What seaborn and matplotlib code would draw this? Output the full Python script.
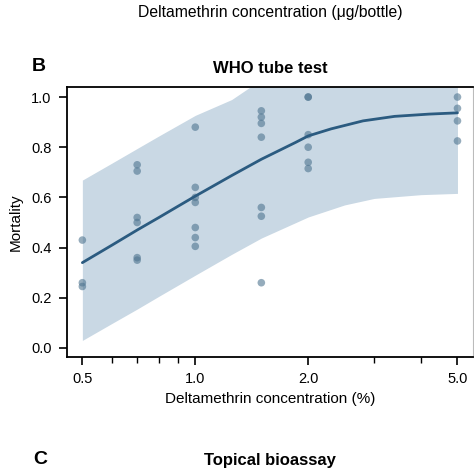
import numpy as np
import pandas as pd
import matplotlib
matplotlib.use("Agg")
import matplotlib.pyplot as plt
import seaborn as sns
from matplotlib.ticker import FixedLocator, NullFormatter

# observed mortality per tube, grouped by concentration (%)
conc_05 = [0.43, 0.26, 0.245]
conc_07 = [0.73, 0.705, 0.52, 0.50, 0.36, 0.35]
conc_10 = [0.88, 0.64, 0.60, 0.58, 0.48, 0.44, 0.405]
conc_15 = [0.945, 0.92, 0.895, 0.84, 0.56, 0.525, 0.26]
conc_20 = [1.0, 1.0, 0.85, 0.80, 0.74, 0.715]
conc_50 = [1.0, 0.955, 0.905, 0.825]
groups = {0.5: conc_05, 0.7: conc_07, 1.0: conc_10, 1.5: conc_15, 2.0: conc_20, 5.0: conc_50}

# fitted curve and confidence band
fit_x = [0.5, 0.6, 0.7, 0.8, 0.9, 1.0, 1.1, 1.25, 1.5, 1.7, 1.85, 2.0, 2.3, 2.8, 3.4, 4.2, 5.0]
fit_y = [0.34, 0.41, 0.47, 0.52, 0.565, 0.605, 0.64, 0.687, 0.752, 0.792, 0.819, 0.845,
         0.873, 0.905, 0.923, 0.932, 0.937]
band_x = [0.5, 0.6, 0.7, 0.8, 1.0, 1.25, 1.5, 2.0, 2.5, 3.0, 4.0, 5.0]
band_lo = [0.03, 0.098, 0.155, 0.206, 0.29, 0.373, 0.438, 0.522, 0.57, 0.596, 0.611, 0.616]
band_hi = [0.669, 0.737, 0.795, 0.845, 0.927, 0.99, 1.07, 1.12, 1.15, 1.17, 1.2, 1.22]

pts = pd.DataFrame([(k, v) for k, vals in groups.items() for v in vals], columns=["conc", "mort"])
fit = pd.DataFrame({"conc": fit_x, "mort": fit_y})

sns.set_theme(style="ticks")
plt.rcParams["font.family"] = ["Liberation Sans", "DejaVu Sans"]
plt.rcParams.update({"text.color": "black", "axes.labelcolor": "black",
                     "xtick.color": "black", "ytick.color": "black"})

fig = plt.figure(figsize=(4.74, 4.74), dpi=100)
ax = fig.add_axes([67 / 474, 117 / 474, 406 / 474, 270 / 474])

ax.fill_between(band_x, band_lo, band_hi, color="#c9d8e4", lw=0, zorder=1)
sns.scatterplot(data=pts, x="conc", y="mort", ax=ax, color="#4f7590", alpha=0.6,
                s=30, edgecolor="none", zorder=3)
sns.lineplot(data=fit, x="conc", y="mort", ax=ax, color="#2b5b80", lw=2, zorder=4)

ax.set_xscale("log")
ax.set_xlim(0.455, 5.5)
ax.set_ylim(-0.036, 1.04)
ax.xaxis.set_major_locator(FixedLocator([0.5, 1.0, 2.0, 5.0]))
ax.set_xticklabels(["0.5", "1.0", "2.0", "5.0"])
ax.xaxis.set_minor_locator(FixedLocator([0.6, 0.7, 0.8, 0.9, 3.0, 4.0]))
ax.xaxis.set_minor_formatter(NullFormatter())
ax.set_yticks([0.0, 0.2, 0.4, 0.6, 0.8, 1.0])
ax.set_yticklabels(["0.0", "0.2", "0.4", "0.6", "0.8", "1.0"])

ax.tick_params(which="major", length=6, width=1.2, labelsize=10.5, pad=5, color="black")
ax.tick_params(which="minor", length=4, width=1.0, color="black")
for side in ["left", "bottom", "top"]:
    ax.spines[side].set_color("black")
    ax.spines[side].set_linewidth(1.3)
ax.spines["right"].set_color("#bbbbbb")
ax.spines["right"].set_linewidth(0.8)

ax.set_xlabel("Deltamethrin concentration (%)", fontsize=11, labelpad=4)
ax.set_ylabel("Mortality", fontsize=11, labelpad=6)
ax.set_title("WHO tube test", fontsize=12, fontweight="bold", pad=10)

fig.text(270 / 474, 1 - 13 / 474, "Deltamethrin concentration (μg/bottle)",
         ha="center", va="center", fontsize=11.3)
fig.text(39 / 474, 1 - 67 / 474, "B", ha="center", va="center", fontsize=14, fontweight="bold")
fig.text(40 / 474, 1 - 460 / 474, "C", ha="center", va="center", fontsize=14, fontweight="bold")
fig.text(270 / 474, 1 - 460 / 474, "Topical bioassay", ha="center", va="center",
         fontsize=12, fontweight="bold")

fig.savefig("out.png", dpi=100)
